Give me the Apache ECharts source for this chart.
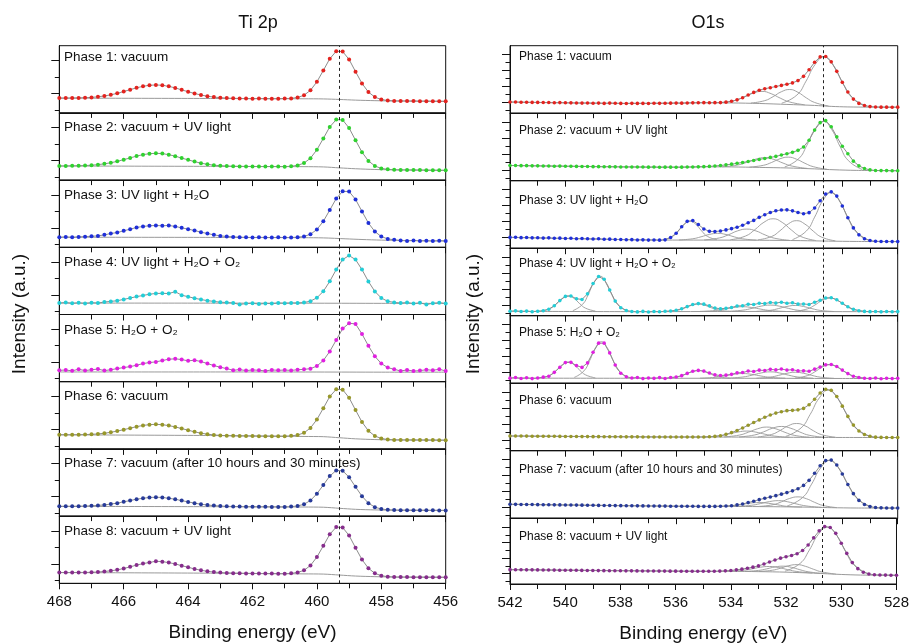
<!DOCTYPE html>
<html>
<head>
<meta charset="utf-8">
<script src="https://cdn.jsdelivr.net/npm/echarts@6.0.0/dist/echarts.min.js"></script>
<style>
  html, body { margin: 0; padding: 0; background: #fff; }
  #chart { width: 912px; height: 644px; }
</style>
</head>
<body>
<div id="chart"></div>
<script>
// binding energy grids (eV)
const TI_ENERGY = [468, 467.8, 467.6, 467.4, 467.2, 467, 466.8, 466.6, 466.4, 466.2,
  466, 465.8, 465.6, 465.4, 465.2, 465, 464.8, 464.6, 464.4, 464.2,
  464, 463.8, 463.6, 463.4, 463.2, 463, 462.8, 462.6, 462.4, 462.2,
  462, 461.8, 461.6, 461.4, 461.2, 461, 460.8, 460.6, 460.4, 460.2,
  460, 459.8, 459.6, 459.4, 459.2, 459, 458.8, 458.6, 458.4, 458.2,
  458, 457.8, 457.6, 457.4, 457.2, 457, 456.8, 456.6, 456.4, 456.2, 456];
const O_ENERGY = [542, 541.8, 541.6, 541.4, 541.2, 541, 540.8, 540.6, 540.4, 540.2,
  540, 539.8, 539.6, 539.4, 539.2, 539, 538.8, 538.6, 538.4, 538.2,
  538, 537.8, 537.6, 537.4, 537.2, 537, 536.8, 536.6, 536.4, 536.2,
  536, 535.8, 535.6, 535.4, 535.2, 535, 534.8, 534.6, 534.4, 534.2,
  534, 533.8, 533.6, 533.4, 533.2, 533, 532.8, 532.6, 532.4, 532.2,
  532, 531.8, 531.6, 531.4, 531.2, 531, 530.8, 530.6, 530.4, 530.2,
  530, 529.8, 529.6, 529.4, 529.2, 529, 528.8, 528.6, 528.4, 528.2, 528];

const PHASE_LABELS = ['Phase 1: vacuum', 'Phase 2: vacuum + UV light', 'Phase 3: UV light + H₂O',
  'Phase 4: UV light + H₂O + O₂', 'Phase 5: H₂O + O₂', 'Phase 6: vacuum',
  'Phase 7: vacuum (after 10 hours and 30 minutes)', 'Phase 8: vacuum + UV light'];
const PHASE_COLORS = ['#e3231f', '#2fd12f', '#1f2fd8', '#22cdd6', '#e020e0', '#97972a', '#273a99', '#862d8c'];

// Ti 2p intensities (a.u.)
const TI_PHASE1 = [22, 22, 22.1, 22.3, 22.6, 23.1, 24, 25.2, 26.9, 29.1,
  31.8, 34.6, 37.3, 39.6, 41.1, 41.6, 41.1, 39.5, 37.2, 34.3,
  31.5, 28.9, 26.6, 24.8, 23.5, 22.7, 22, 21.7, 21.5, 21.3,
  21.2, 21.4, 21.1, 21.2, 21.1, 21.3, 21.6, 22.9, 26.3, 33.6,
  46.2, 63.2, 80.6, 91.7, 91.3, 79.5, 61.4, 43.9, 31, 23.5,
  19.9, 18.5, 17.8, 17.8, 17.7, 17.6, 17.5, 17.5, 17.4, 17.3, 17.2];
const TI_PHASE2 = [21, 21, 21.2, 21.4, 21.6, 22.2, 23, 24.2, 25.8, 27.9,
  30.4, 33, 35.7, 37.9, 39.3, 39.9, 39.4, 37.8, 35.6, 32.8,
  30.1, 27.5, 25.2, 23.5, 22.2, 21.4, 20.9, 20.6, 20.4, 20.3,
  20.2, 20.2, 20.1, 20.2, 20.1, 20, 20.6, 21.9, 25.3, 32.6,
  45.2, 62, 79.2, 90, 89.5, 77.5, 59.3, 41.6, 28.6, 21,
  17.4, 16, 15.3, 15.2, 15.1, 15, 14.9, 14.8, 14.7, 14.6, 14.5];
const TI_PHASE3 = [15, 15.3, 14.8, 15.5, 15.8, 16.5, 17, 18.5, 20.5, 22,
  24.5, 27, 29.5, 31, 32, 32.5, 32, 32.5, 31, 29,
  27, 25, 22.5, 20.5, 18.5, 17, 16.2, 15.5, 15, 14.8,
  14.5, 14.8, 14.6, 14.4, 14.8, 14.5, 14.6, 15, 16.2, 19.4,
  26.5, 38.7, 55.4, 72.5, 83.3, 82.9, 71.3, 53.4, 36.1, 23.4,
  16, 12.5, 11.1, 10.2, 9.5, 10.3, 9.4, 9.8, 9.2, 9.9, 9.3];
const TI_PHASE4 = [17, 17.8, 16.6, 17.3, 16.4, 17.5, 17, 18.6, 19.5, 20.5,
  22.5, 24.5, 26.6, 28.3, 30.2, 31.3, 31.5, 31.2, 34, 28.7,
  26.5, 24.2, 22.3, 20.6, 19.5, 18.3, 17.8, 17.2, 15, 16.2,
  16.8, 15.5, 16.5, 16.2, 17, 16.8, 17.2, 17.2, 17.8, 19.9,
  24.9, 34.5, 49.3, 66.9, 81.8, 87.7, 81.7, 66.8, 49.1, 34.3,
  24.6, 19.6, 18, 17, 17.8, 16.2, 17.5, 14.8, 16.8, 17.5, 16.5];
const TI_PHASE5 = [17, 17.3, 16.2, 18.5, 16.5, 17.8, 18.8, 16.5, 17.8, 19.5,
  21, 22.5, 24.5, 27, 28.5, 29.5, 31.5, 33.5, 34, 33,
  31, 32, 30, 27, 24, 21.5, 19.5, 17, 18, 16.5,
  17.5, 17, 16, 17.5, 17, 17.3, 16.8, 17.8, 18.4, 19.4,
  23.3, 31.6, 45, 62, 79, 87, 86, 71, 53.4, 37.7,
  27, 21, 18.4, 16, 17.5, 15.8, 16.5, 17.8, 17, 18.5, 16];
const TI_PHASE6 = [21, 21, 21, 21.1, 21.3, 21.7, 22.3, 23.3, 24.7, 26.5,
  28.6, 30.9, 33.1, 34.9, 36.1, 36.6, 36, 34.7, 32.7, 30.3,
  27.8, 25.4, 23.4, 21.9, 20.8, 20.1, 19.7, 19.4, 19.3, 19.2,
  19.1, 19, 18.9, 18.9, 18.8, 18.8, 19.4, 20.6, 23.9, 31.2,
  43.7, 60.6, 77.9, 88.7, 88.1, 76.1, 57.8, 40, 26.9, 19.2,
  15.5, 14, 13.4, 13.3, 13.3, 13.2, 13.2, 13.1, 13.1, 13, 13];
const TI_PHASE7 = [14.5, 14.5, 14.5, 14.7, 14.9, 15.3, 15.9, 16.7, 17.9, 19.3,
  21.2, 23.2, 25.1, 26.6, 27.7, 28.1, 27.7, 26.6, 25, 23.1,
  21.1, 19.3, 17.7, 16.5, 15.6, 15, 14.5, 14.3, 14.2, 14,
  13.9, 13.8, 13.8, 13.7, 13.7, 13.6, 14.1, 15.1, 17.6, 23.3,
  33.2, 46.3, 59.6, 68, 67.4, 57.9, 43.5, 29.6, 19.3, 13.3,
  10.5, 9.4, 8.9, 8.8, 8.8, 8.7, 8.7, 8.6, 8.6, 8.5, 8.5];
const TI_PHASE8 = [16, 16, 16, 16.2, 16.1, 16.4, 16.8, 17.6, 18.6, 20,
  22, 24.5, 27.1, 29.3, 31, 32.8, 32.2, 30.8, 28.8, 26.3,
  23.8, 21.4, 19.4, 17.8, 16.7, 16, 15.4, 15.1, 14.9, 14.7,
  14.6, 14.5, 14.4, 14.4, 14.3, 14.3, 14.8, 16.1, 19.3, 26.6,
  39, 55.8, 72.9, 83.6, 83, 71.1, 52.9, 35.3, 22.4, 14.8,
  11.3, 9.9, 9.3, 9.2, 9.2, 9.1, 9.1, 9.1, 9, 9, 9];

// Ti 2p backgrounds [eV, intensity]
const TI_BG1 = [[468, 22], [463, 21.4], [460.4, 21], [459.8, 20.8], [459.3, 20], [458.8, 19], [458.2, 18.2], [457.5, 17.7], [456, 17.2]];
const TI_BG2 = [[468, 21], [463, 20.4], [460.4, 20], [459.8, 19.6], [459.3, 18.2], [458.8, 16.9], [458.2, 15.8], [457.5, 15.2], [456, 14.5]];
const TI_BG3 = [[468, 15], [463, 14.7], [460.4, 14.3], [459.8, 14], [459.1, 12.6], [458.6, 11.6], [458, 10.7], [457.4, 10.2], [456, 9.4]];
const TI_BG4 = [[468, 17], [463, 16.9], [460, 16.8], [459, 16.7], [458, 16.6], [456, 16.5]];
const TI_BG5 = [[468, 14.5], [463, 14.5], [460, 14.4], [459, 14.3], [458, 14.2], [456, 14.2]];
const TI_BG6 = [[468, 21], [463, 19.8], [460.4, 18.5], [459.8, 18.2], [459.3, 16.6], [458.8, 15], [458.2, 13.9], [457.5, 13.4], [456, 13]];
const TI_BG7 = [[468, 14.5], [463, 14], [460.4, 13.5], [459.8, 13.2], [459.3, 11.6], [458.8, 10.1], [458.2, 9.2], [457.5, 8.8], [456, 8.5]];
const TI_BG8 = [[468, 16], [463, 15], [460.4, 14], [459.8, 13.7], [459.3, 12.3], [458.8, 10.8], [458.2, 9.9], [457.5, 9.3], [456, 9]];

// O1s intensities (a.u.)
const O_PHASE1 = [16.5, 16.5, 16.3, 16.2, 16, 16, 15.8, 15.8, 15.5, 15.7,
  15.5, 15.3, 15.2, 15, 15.2, 14.8, 15, 14.5, 15, 14.8,
  14.5, 14.3, 14.6, 14.5, 14.5, 14.4, 14.7, 14.6, 14.8, 14.9,
  15, 14.9, 15.2, 15.3, 15.5, 15.6, 15.5, 15.6, 15.7, 16.4,
  17.6, 19.8, 23, 26.9, 30.8, 34.1, 36.3, 37.8, 39.6, 41.2,
  42.9, 44.9, 48.3, 54.6, 64.4, 75.5, 83.4, 84, 76.1, 62,
  45.7, 31.3, 20.9, 14.5, 11.3, 9.8, 9.2, 9, 9, 8.8, 9];
const O_PHASE2 = [22.5, 22.5, 22.3, 22.3, 22, 22, 21.8, 21.8, 21.5, 21.6,
  21.4, 21.3, 21.2, 21, 21.1, 20.8, 20.8, 20.6, 20.7, 20.5,
  20.4, 20.3, 20.4, 20.2, 20.2, 20.1, 20.2, 20, 20.1, 20.1,
  20, 20.1, 20.2, 20.3, 20.5, 20.8, 21.2, 21.8, 22.5, 23.5,
  24.5, 25.8, 27, 28.5, 30, 31.5, 33, 34.5, 36, 38,
  40, 42, 45, 50, 60, 75, 86, 89, 80, 65,
  51, 40, 29, 22, 18, 16, 15.2, 15, 15, 14.8, 14.8];
const O_PHASE3 = [16, 16.2, 15.6, 15.9, 15.3, 15.5, 15, 15.3, 14.7, 14.9,
  14.4, 14.7, 14.1, 14.3, 13.9, 13.7, 13.9, 13.3, 13.4, 12.9,
  13, 12.5, 12.7, 12.2, 12.4, 12, 12.2, 11.9, 12.4, 15.8,
  22.1, 31.7, 39.8, 40.9, 35.2, 28.5, 25, 24.6, 25.5, 27.1,
  29, 31, 34.1, 37.6, 41.2, 45.7, 49.6, 52.9, 55.4, 56.5,
  56.8, 55.3, 53, 51.1, 52.7, 59.5, 70.3, 80.3, 83.5, 77.2,
  62.5, 45.2, 30.1, 19.8, 14, 11.3, 10.3, 10, 9.9, 9.8, 9.8];
const O_PHASE4 = [6.5, 7.2, 6.2, 6.8, 5.9, 6.7, 7.4, 9.6, 14.8, 22.4,
  28.6, 29.2, 25.1, 24.1, 32.4, 47.7, 58, 53.9, 38.1, 21.6,
  11.8, 7.8, 6.3, 5.6, 6.4, 5.5, 6.2, 5.8, 6.6, 6.9,
  8.1, 10.2, 13.5, 16.6, 17.9, 17.1, 14.6, 11.3, 10.4, 10.9,
  12.2, 14.3, 14.8, 17, 16.5, 18.4, 17.9, 19.5, 18.7, 20,
  18.4, 19.1, 17.2, 17.4, 16.6, 19.9, 23, 26.2, 26.7, 23.7,
  18.4, 13.2, 9.4, 7.4, 6.4, 6, 6.3, 5.7, 6.2, 5.8, 6.1];
const O_PHASE5 = [7.5, 8.5, 7, 8, 6.8, 7.7, 9, 10.2, 16.1, 23.5,
  30.5, 30.9, 26.1, 23.4, 30.1, 45.8, 59.3, 59.3, 44.9, 26.9,
  14.8, 9.5, 7.8, 8.5, 6.8, 7.8, 7.2, 8.3, 7, 8.5,
  9.1, 11.2, 14.5, 17.6, 19, 17.9, 15.1, 12.4, 11.4, 11.9,
  13.1, 15.3, 15.8, 18, 17.4, 19.3, 18.9, 20.5, 19.7, 21,
  19.4, 20, 18.2, 18.3, 17.6, 20.8, 24, 27.2, 27.7, 24.7,
  19.4, 14.2, 10.4, 8.4, 7.4, 7, 7.8, 6.5, 7.3, 6.8, 7.2];
const O_PHASE6 = [21.8, 21.7, 21.7, 21.6, 21.5, 21.5, 21.4, 21.3, 21.3, 21.2,
  21.1, 21.1, 21, 20.9, 20.9, 20.8, 20.8, 20.7, 20.7, 20.6,
  20.6, 20.5, 20.5, 20.5, 20.4, 20.4, 20.4, 20.3, 20.3, 20.3,
  20.3, 20.3, 20.3, 20.3, 20.3, 20.4, 20.6, 21.2, 22.2, 24.2,
  26.8, 30, 33.7, 37.6, 41.7, 45.6, 49.6, 52.8, 55.7, 57.8,
  59.3, 59.8, 60.5, 62.7, 68.1, 76.3, 85.5, 91.1, 89.4, 80.2,
  66, 50.8, 37.9, 29.1, 23.9, 21.3, 20.1, 19.7, 19.5, 19.5, 19.5];
const O_PHASE7 = [20.6, 20.5, 20.4, 20.3, 20.2, 20.1, 20, 19.9, 19.8, 19.7,
  19.6, 19.5, 19.4, 19.3, 19.2, 19.1, 19, 18.9, 18.8, 18.7,
  18.6, 18.5, 18.4, 18.3, 18.2, 18.1, 18, 17.9, 17.9, 17.8,
  17.7, 17.7, 17.6, 17.6, 17.5, 17.5, 17.5, 17.5, 17.6, 18,
  18.5, 19.7, 21.1, 23.1, 25.2, 27.5, 29.5, 31.4, 33.4, 35.6,
  37.9, 40.5, 43.6, 48.6, 56.1, 66.5, 77.6, 85.3, 86.1, 78.8,
  65.4, 50, 36.4, 26.4, 20.4, 17.2, 15.8, 15.3, 15.1, 15, 15];
const O_PHASE8 = [21.8, 21.7, 21.6, 21.5, 21.5, 21.4, 21.3, 21.2, 21.1, 21,
  21, 20.9, 20.8, 20.7, 20.6, 20.5, 20.4, 20.3, 20.2, 20.2,
  20.1, 20, 20, 19.9, 19.8, 19.8, 19.7, 19.6, 19.6, 19.5,
  19.5, 19.4, 19.4, 19.3, 19.3, 19.3, 19.3, 19.4, 19.6, 20,
  20.6, 21.5, 22.6, 24, 25.6, 27.5, 30.3, 33.5, 36.5, 39.3,
  41.5, 43.4, 46, 50.9, 59.2, 70.1, 80.8, 87.2, 85.9, 77,
  62, 46.5, 32.5, 23.3, 17.9, 15.2, 14, 13.6, 13.5, 13.4, 13.3];

// O1s backgrounds [eV, intensity]
const O_BG1 = [[542, 16.5], [538, 14.6], [536, 15], [535, 15.5], [534, 15.2], [533, 14.4], [532, 13], [531, 11.5], [530.4, 10.1], [529.8, 9.3], [529, 9], [528, 9]];
const O_BG2 = [[542, 22.5], [538, 20.6], [536, 20], [535, 20.6], [534, 20.4], [533, 19.7], [532, 18.9], [531, 17.5], [530.3, 16.2], [529.5, 15.3], [528, 14.8]];
const O_BG3 = [[542, 16], [538, 12.8], [536.5, 12.1], [535, 12], [533, 11.8], [531.5, 11.2], [530.5, 10.5], [529.5, 10], [528, 9.8]];
const O_BG4 = [[542, 6.5], [537, 6], [535, 6.2], [533, 6.3], [531, 6.1], [529, 6], [528, 6]];
const O_BG5 = [[542, 7.5], [537, 7.3], [534, 7.3], [532, 7.2], [530, 7], [528, 7]];
const O_BG6 = [[542, 21.8], [536, 20.3], [534, 20.2], [533, 20], [532, 19.9], [531, 19.7], [530, 19.6], [528, 19.5]];
const O_BG7 = [[542, 20.6], [538, 18.6], [535, 17.5], [534, 17.4], [533, 17.2], [532, 16.8], [531, 16.2], [530.4, 15.6], [529.5, 15.1], [528, 15]];
const O_BG8 = [[542, 21.8], [535, 19.3], [534, 19.2], [533, 18.8], [532, 18], [531, 16.5], [530.5, 15.5], [530, 14.5], [529.3, 13.6], [528, 13.3]];

// O1s fitted components [eV, intensity]
const O_FIT1 = [
  [[534.44, 15.7], [533.89, 18.8], [533.56, 23.7], [533.23, 29.6], [532.9, 32.3], [532.57, 28.9], [532.24, 22.3], [531.91, 16.7], [531.36, 12.5]],
  [[533.3, 15.1], [532.8, 18.6], [532.5, 24.5], [532.2, 31.8], [531.9, 35.1], [531.6, 30.9], [531.3, 22.7], [531, 15.9], [530.5, 10.7]],
  [[532.19, 14.8], [531.64, 26.9], [531.31, 47.5], [530.98, 72.3], [530.65, 83.7], [530.32, 70.9], [529.99, 45.1], [529.66, 23.7], [529.11, 10.4]]];
const O_FIT2 = [
  [[534.34, 20.7], [533.79, 23.1], [533.46, 27.1], [533.13, 31.9], [532.8, 34.1], [532.47, 31.5], [532.14, 26.1], [531.81, 21.6], [531.26, 18.2]],
  [[533.35, 20.2], [532.85, 22.8], [532.55, 27.1], [532.25, 32.5], [531.95, 34.9], [531.65, 31.8], [531.35, 25.8], [531.05, 20.8], [530.55, 16.9]],
  [[532.08, 20.4], [531.58, 32.4], [531.28, 52.5], [530.98, 76.8], [530.68, 87.9], [530.38, 75.6], [530.08, 50.5], [529.78, 29.7], [529.28, 16.6]]];
const O_FIT3 = [
  [[536.48, 12.6], [536.13, 17.5], [535.92, 25.6], [535.71, 35.4], [535.5, 40], [535.29, 35.4], [535.08, 25.6], [534.87, 17.5], [534.52, 12.6]],
  [[535.9, 12.2], [535.4, 14], [535.1, 16.9], [534.8, 20.4], [534.5, 22], [534.2, 20.3], [533.9, 16.8], [533.6, 13.9], [533.1, 12]],
  [[534.99, 12.3], [534.44, 15.2], [534.11, 19.9], [533.78, 25.7], [533.45, 28.3], [533.12, 25.6], [532.79, 19.7], [532.46, 14.9], [531.91, 11.7]],
  [[534.04, 12.5], [533.49, 18.1], [533.16, 27.4], [532.83, 38.4], [532.5, 43.6], [532.17, 38.2], [531.84, 27], [531.51, 17.5], [530.96, 11.4]],
  [[533.05, 12.4], [532.55, 17.4], [532.25, 25.9], [531.95, 36], [531.65, 40.8], [531.35, 35.7], [531.05, 25.3], [530.75, 16.4], [530.25, 10.9]],
  [[531.8, 12.7], [531.3, 25.4], [531, 46], [530.7, 70.7], [530.4, 82.4], [530.1, 70.3], [529.8, 45.2], [529.5, 24.3], [529, 11.3]]];
const O_FIT4 = [
  [[540.88, 7], [540.53, 11.1], [540.32, 17.7], [540.11, 25.7], [539.9, 29.5], [539.69, 25.7], [539.48, 17.7], [539.27, 11.1], [538.92, 7]],
  [[539.73, 7.5], [539.38, 16.8], [539.17, 31.8], [538.96, 49.9], [538.75, 58.5], [538.54, 49.9], [538.33, 31.8], [538.12, 16.8], [537.77, 7.5]],
  [[536.32, 6.4], [535.92, 8.4], [535.68, 11.6], [535.44, 15.4], [535.2, 17.2], [534.96, 15.4], [534.72, 11.6], [534.48, 8.4], [534.08, 6.5]],
  [[535.14, 6.4], [534.59, 7.7], [534.26, 9.7], [533.93, 12.1], [533.6, 13.3], [533.27, 12.1], [532.94, 9.7], [532.61, 7.7], [532.06, 6.3]],
  [[534.14, 6.5], [533.59, 8.2], [533.26, 10.9], [532.93, 14.2], [532.6, 15.7], [532.27, 14.1], [531.94, 10.8], [531.61, 8.1], [531.06, 6.3]],
  [[533.1, 6.4], [532.6, 8], [532.3, 10.6], [532, 13.7], [531.7, 15.2], [531.4, 13.6], [531.1, 10.5], [530.8, 7.9], [530.3, 6.2]],
  [[531.71, 6.5], [531.26, 10.1], [530.99, 15.8], [530.72, 22.8], [530.45, 26.1], [530.18, 22.7], [529.91, 15.7], [529.64, 10], [529.19, 6.4]]];
const O_FIT5 = [
  [[540.88, 8], [540.53, 12.3], [540.32, 19.2], [540.11, 27.5], [539.9, 31.5], [539.69, 27.5], [539.48, 19.2], [539.27, 12.3], [538.92, 8]],
  [[539.68, 8.6], [539.33, 18.2], [539.12, 33.8], [538.91, 52.6], [538.7, 61.5], [538.49, 52.6], [538.28, 33.8], [538.07, 18.2], [537.72, 8.6]],
  [[536.32, 7.5], [535.92, 9.6], [535.68, 12.9], [535.44, 16.9], [535.2, 18.8], [534.96, 16.9], [534.72, 12.9], [534.48, 9.6], [534.08, 7.5]],
  [[535.14, 7.4], [534.59, 8.7], [534.26, 10.7], [533.93, 13.1], [533.6, 14.3], [533.27, 13.1], [532.94, 10.7], [532.61, 8.7], [532.06, 7.4]],
  [[534.14, 7.5], [533.59, 9.2], [533.26, 11.9], [532.93, 15.2], [532.6, 16.8], [532.27, 15.2], [531.94, 11.9], [531.61, 9.2], [531.06, 7.4]],
  [[533.1, 7.4], [532.6, 9], [532.3, 11.6], [532, 14.7], [531.7, 16.2], [531.4, 14.7], [531.1, 11.6], [530.8, 9], [530.3, 7.2]],
  [[531.71, 7.6], [531.26, 11.2], [530.99, 16.9], [530.72, 23.9], [530.45, 27.5], [530.18, 23.8], [529.91, 16.8], [529.64, 11.1], [529.19, 7.4]]];
const O_FIT6 = [
  [[534.99, 20.5], [534.44, 22], [534.11, 24.6], [533.78, 27.6], [533.45, 29.1], [533.12, 27.5], [532.79, 24.4], [532.46, 21.7], [531.91, 20]],
  [[534.27, 20.5], [533.72, 23.1], [533.39, 27.4], [533.06, 32.5], [532.73, 35], [532.4, 32.4], [532.07, 27.2], [531.74, 22.8], [531.19, 20]],
  [[533.73, 20.4], [533.18, 23.2], [532.85, 27.8], [532.52, 33.3], [532.19, 35.9], [531.86, 33.2], [531.53, 27.6], [531.2, 22.9], [530.65, 20]],
  [[533.05, 20.4], [532.55, 24.1], [532.25, 29.9], [531.95, 37], [531.65, 40.3], [531.35, 36.9], [531.05, 29.7], [530.75, 23.8], [530.25, 20]],
  [[532.04, 21.3], [531.49, 33.7], [531.16, 53.8], [530.83, 78.2], [530.5, 89.6], [530.17, 78.1], [529.84, 53.7], [529.51, 33.4], [528.96, 20.9]]];
const O_FIT7 = [
  [[534.54, 17.5], [533.99, 18.6], [533.66, 20.2], [533.33, 22.3], [533, 23.2], [532.67, 22.1], [532.34, 19.9], [532.01, 17.6], [531.46, 16.6]],
  [[533.84, 17.6], [533.29, 19.1], [532.96, 21.6], [532.63, 24.6], [532.3, 26], [531.97, 24.3], [531.64, 21], [531.31, 18.2], [530.76, 16.1]],
  [[533, 17.5], [532.5, 20], [532.2, 24.2], [531.9, 29.3], [531.6, 31.6], [531.3, 28.9], [531, 23.5], [530.7, 18.9], [530.2, 15.7]],
  [[531.99, 18.2], [531.44, 30.4], [531.11, 50.4], [530.78, 74.5], [530.45, 85.6], [530.12, 73.9], [529.79, 49.3], [529.46, 29], [528.91, 16.4]]];
const O_FIT8 = [
  [[534.14, 19.4], [533.59, 20.7], [533.26, 22.8], [532.93, 25.5], [532.6, 26.6], [532.27, 25], [531.94, 21.8], [531.61, 19], [531.06, 16.8]],
  [[533.5, 19.2], [533, 20.6], [532.7, 23], [532.4, 25.9], [532.1, 27.1], [531.8, 25.3], [531.5, 21.7], [531.2, 18.6], [530.7, 16.1]],
  [[533, 19], [532.5, 20.9], [532.2, 24], [531.9, 27.9], [531.6, 29.4], [531.3, 26.9], [531, 22.3], [530.7, 18.3], [530.2, 15.1]],
  [[532.04, 19.5], [531.49, 31.3], [531.16, 51.3], [530.83, 75.4], [530.5, 86.5], [530.17, 74.1], [529.84, 48.9], [529.51, 27.9], [528.96, 14.8]]];

// reference lines (eV) and y tick positions
const TI_REF = 459.3;
const O_REF = 530.7;
const TI_MAJOR_TICKS = [29, 78];
const TI_MINOR_TICKS = [4.5, 53.5];
const O_MAJOR_TICKS = [15.6, 39.3, 63, 86.7];
const O_MINOR_TICKS = [3.7, 27.4, 51.1, 74.8];

const FONT = '"Liberation Sans", Arial, sans-serif';
const INK = '#111';
const FIT_GREY = '#9a9a9a';

const columns = [
  {
    energy: TI_ENERGY, min: 456, max: 468, ref: TI_REF,
    values: [TI_PHASE1, TI_PHASE2, TI_PHASE3, TI_PHASE4, TI_PHASE5, TI_PHASE6, TI_PHASE7, TI_PHASE8],
    bgs: [TI_BG1, TI_BG2, TI_BG3, TI_BG4, TI_BG5, TI_BG6, TI_BG7, TI_BG8],
    fits: [[], [], [], [], [], [], [], []],
    major: TI_MAJOR_TICKS, minor: TI_MINOR_TICKS,
    left: 59.3, width: 386.4, top: 45.7, h: 67.2,
    title: 'Ti 2p', titleX: 258, yNameX: 20,
    labelX: 64, labelSize: 13.5, labelTop: [5, 7.2, 8, 7.8, 8.9, 7.4, 7.5, 8.6],
    symbolSize: 4
  },
  {
    energy: O_ENERGY, min: 528, max: 542, ref: O_REF,
    values: [O_PHASE1, O_PHASE2, O_PHASE3, O_PHASE4, O_PHASE5, O_PHASE6, O_PHASE7, O_PHASE8],
    bgs: [O_BG1, O_BG2, O_BG3, O_BG4, O_BG5, O_BG6, O_BG7, O_BG8],
    fits: [O_FIT1, O_FIT2, O_FIT3, O_FIT4, O_FIT5, O_FIT6, O_FIT7, O_FIT8],
    major: O_MAJOR_TICKS, minor: O_MINOR_TICKS,
    left: 510, width: 387.7, top: 45.7, h: 67.5,
    title: 'O1s', titleX: 708, yNameX: 474,
    labelX: 519, labelSize: 12, labelTop: [4.7, 11.2, 13.7, 9.5, 11, 11.7, 13, 12.2],
    symbolSize: 3.6
  }
];

const grid = [], xAxis = [], yAxis = [], series = [], graphic = [];

columns.forEach((col) => {
  col.values.forEach((vals, k) => {
    const gi = grid.length;
    const top = col.top + k * col.h;
    const last = k === col.values.length - 1;
    grid.push({
      left: col.left, top: top, width: col.width, height: col.h,
      show: true, borderColor: INK, borderWidth: 1, backgroundColor: 'transparent'
    });
    xAxis.push({
      gridIndex: gi, type: 'value', min: col.min, max: col.max, interval: 2, inverse: true,
      axisLine: { show: true, lineStyle: { color: INK, width: 1 } },
      axisTick: { show: true, length: 6, lineStyle: { color: INK } },
      minorTick: { show: true, splitNumber: 2, length: 5, lineStyle: { color: INK } },
      splitLine: { show: false },
      axisLabel: { show: last, fontSize: 15, color: INK, fontFamily: FONT, margin: 11 },
      name: last ? 'Binding energy (eV)' : '',
      nameLocation: 'middle', nameGap: 40,
      nameTextStyle: { fontSize: 19, color: INK, fontFamily: FONT }
    });
    [[col.major, 8], [col.minor, 4.5]].forEach(([ticks, len]) => {
      yAxis.push({
        gridIndex: gi, type: 'value', min: 0, max: 100, position: 'left',
        axisLine: { show: true, lineStyle: { color: INK, width: 1 } },
        axisTick: { show: true, length: len, customValues: ticks, lineStyle: { color: INK } },
        axisLabel: { show: false },
        splitLine: { show: false }
      });
    });
    const yi = yAxis.length - 2;

    series.push({
      type: 'line', xAxisIndex: gi, yAxisIndex: yi, z: 2, silent: true,
      data: col.bgs[k], symbol: 'none', smooth: 0.3,
      lineStyle: { color: FIT_GREY, width: 1 }
    });
    col.fits[k].forEach((comp) => {
      series.push({
        type: 'line', xAxisIndex: gi, yAxisIndex: yi, z: 2, silent: true,
        data: comp, symbol: 'none', smooth: true,
        lineStyle: { color: FIT_GREY, width: 0.9 }
      });
    });
    series.push({
      type: 'line', xAxisIndex: gi, yAxisIndex: yi, z: 4, silent: true,
      data: col.energy.map((e, i) => [e, vals[i]]),
      symbol: 'circle', symbolSize: col.symbolSize, showSymbol: true,
      itemStyle: { color: PHASE_COLORS[k], borderWidth: 0 },
      lineStyle: { color: '#8c8c8c', width: 1 },
      markLine: {
        silent: true, symbol: ['none', 'none'], label: { show: false },
        lineStyle: { color: '#222', type: [3, 3], width: 1 },
        data: [{ xAxis: col.ref }]
      }
    });

    graphic.push({
      type: 'text', x: col.labelX, y: top + col.labelTop[k], z: 10,
      style: {
        text: PHASE_LABELS[k],
        fill: INK, font: col.labelSize + 'px ' + FONT
      }
    });
  });

  graphic.push({
    type: 'text', x: col.titleX, y: 23,
    style: {
      text: col.title, fill: INK, font: '18px ' + FONT,
      align: 'center', verticalAlign: 'middle', textAlign: 'center', textVerticalAlign: 'middle'
    }
  });
  graphic.push({
    type: 'text', x: col.yNameX, y: 314, rotation: Math.PI / 2,
    style: {
      text: 'Intensity (a.u.)', fill: INK, font: '19px ' + FONT,
      align: 'center', verticalAlign: 'middle', textAlign: 'center', textVerticalAlign: 'middle'
    }
  });
});

const chart = echarts.init(document.getElementById('chart'));
chart.setOption({
  animation: false,
  backgroundColor: '#fff',
  textStyle: { fontFamily: FONT },
  grid, xAxis, yAxis, series, graphic
});
</script>
</body>
</html>
